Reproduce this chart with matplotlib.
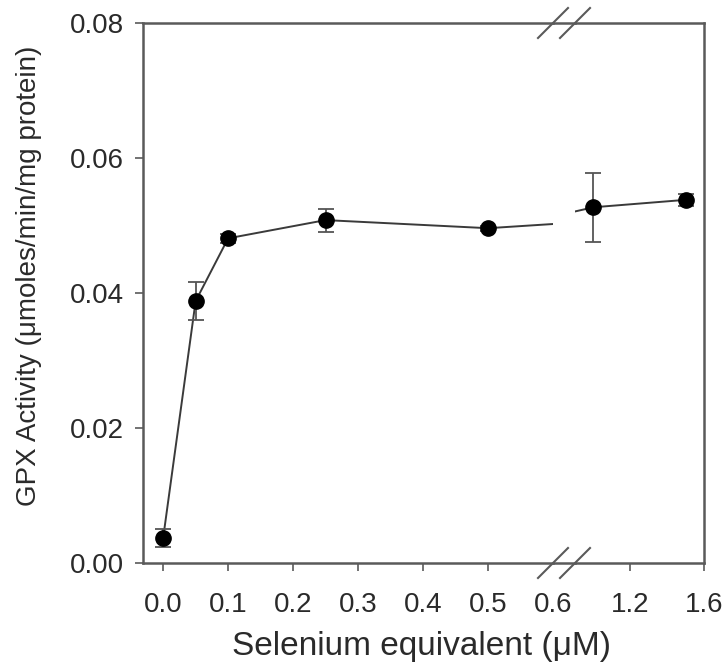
import matplotlib
matplotlib.use("Agg")
import matplotlib.pyplot as plt
from matplotlib.lines import Line2D
import numpy as np

plt.rcParams['font.family'] = ['Liberation Sans', 'DejaVu Sans']

# Data
x_vals = [0.0, 0.05, 0.1, 0.25, 0.5, 1.0, 1.5]
y_vals = [0.0037, 0.0388, 0.0481, 0.0508, 0.0496, 0.0527, 0.0538]
y_err = [0.0013, 0.0028, 0.0007, 0.0017, 0.0004, 0.0051, 0.0009]
left_ticks = [0.0, 0.1, 0.2, 0.3, 0.4, 0.5]
right_ticks = [1.2, 1.6]
y_ticks = [0.00, 0.02, 0.04, 0.06, 0.08]

W, H = 725, 671
fig = plt.figure(figsize=(W / 100, H / 100), dpi=100)

x_left, x_break1, x_break2, x_right = 143, 553, 575, 704
y_top, y_bot = 23, 563

ax1 = fig.add_axes([x_left / W, 1 - y_bot / H, (x_break1 - x_left) / W, (y_bot - y_top) / H])
ax2 = fig.add_axes([x_break2 / W, 1 - y_bot / H, (x_right - x_break2) / W, (y_bot - y_top) / H])

spine_col = '#5a5a5a'
line_col = '#3a3a3a'
txt_col = '#2a2a2a'
fs = 20

for ax in (ax1, ax2):
    ax.errorbar(x_vals, y_vals, yerr=y_err, fmt='o', color='black', ms=11,
                ecolor='#555555', elinewidth=1.3, capsize=6, capthick=1.3, zorder=3)
    ax.plot(x_vals, y_vals, '-', color=line_col, lw=1.4, zorder=2)
    ax.set_ylim(0, 0.08)
    for s in ax.spines.values():
        s.set_color(spine_col)
        s.set_linewidth(1.8)
    ax.tick_params(axis='both', direction='out', length=6, width=1.2, color=spine_col,
                   labelsize=fs, labelcolor=txt_col, pad=8)
    ax.tick_params(axis='x', pad=15)

ax1.set_xlim(-0.031, 0.6)
ax1.set_xticks(left_ticks)
ax1.set_xticklabels([f"{t:.1f}" for t in left_ticks])
ax1.set_xticks([0.6], minor=True)
ax1.set_xticklabels(["0.6"], minor=True)
ax1.tick_params(axis='x', which='minor', length=0, labelsize=fs, labelcolor=txt_col, pad=21)
ax1.set_yticks(y_ticks)
ax1.set_yticklabels([f"{t:.2f}" for t in y_ticks])
ax1.spines['right'].set_visible(False)

ax2.set_xlim(0.9, 1.6)
ax2.set_xticks(right_ticks)
ax2.set_xticklabels([f"{t:.1f}" for t in right_ticks])
ax2.set_yticks([])
ax2.spines['left'].set_visible(False)

fig.text(29 / W, 1 - 276 / H, "GPX Activity (\u03bcmoles/min/mg protein)", rotation=90,
         ha='center', va='center', fontsize=20, color=txt_col)
fig.text(421 / W, 1 - 655 / H, "Selenium equivalent (\u03bcM)",
         ha='center', va='baseline', fontsize=24, color=txt_col)

# connect spines through break gap
for yy in (y_top, y_bot):
    fig.add_artist(Line2D([x_break1 / W, x_break2 / W], [1 - yy / H, 1 - yy / H],
                          color=spine_col, lw=1.8, transform=fig.transFigure))
    for xc in (x_break1, x_break2):
        d = 15
        fig.add_artist(Line2D([(xc - d) / W, (xc + d) / W], [1 - (yy + d) / H, 1 - (yy - d) / H],
                              color=spine_col, lw=1.5, transform=fig.transFigure))

fig.savefig("out.png", dpi=100)
